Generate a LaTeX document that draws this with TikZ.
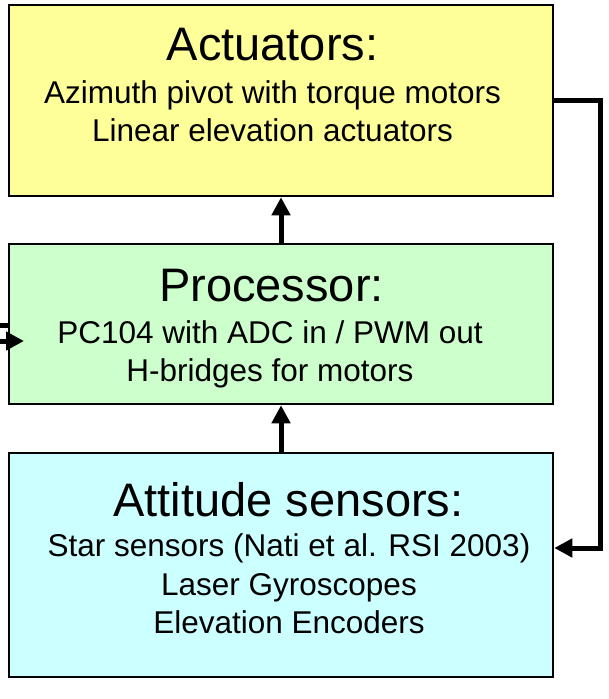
\documentclass[tikz,border=0pt]{standalone}
\usepackage{fontspec}
\setmainfont{Liberation Sans}
\usepackage{xcolor}
\usetikzlibrary{positioning,arrows.meta}

\definecolor{actfill}{HTML}{FFFF99}
\definecolor{procfill}{HTML}{CCFFCC}
\definecolor{sensfill}{HTML}{CCFFFF}

\tikzset{
  blockbox/.style={draw, line width=2.5pt, rectangle, inner sep=0pt, minimum width=544pt},
  blocktitle/.style={anchor=base, inner sep=0pt, font=\fontsize{47}{56}\selectfont},
  blocktext/.style={anchor=base, inner sep=0pt, align=center, font=\fontsize{31.5}{38.3}\selectfont},
  flow/.style={line width=5pt, -{Triangle[length=18pt,width=18pt]}},
}

\begin{document}
\begin{tikzpicture}[x=1pt,y=-1pt]
    \useasboundingbox (0,0) rectangle (608,699);
    \node[blockbox,fill=actfill,minimum height=191pt] at (281,100.5) (act) {};
    \node[blockbox,fill=procfill,minimum height=160pt] at (281,324) (proc) {};
    \node[blockbox,fill=sensfill,minimum height=224pt] at (281,565) (sens) {};
    % base of a multi-line text is its last line
    \node[blocktitle] at (272.5,60) (acttitle) {Actuators:};
    \node[blocktext] at (272.5,141.7) (actbody) {Azimuth pivot with torque motors\\Linear elevation actuators};
    \node[blocktitle] at (271.5,301.7) (proctitle) {Processor:};
    \node[blocktext] at (270,381.7) (procbody) {PC104 with ADC in / PWM out\\H-bridges for motors};
    \node[blocktitle] at (288.5,516.7) (senstitle) {Attitude sensors:};
    \node[blocktext] at (289,633.3) (sensbody) {Star sensors (Nati et al. RSI 2003)\\Laser Gyroscopes\\Elevation Encoders};
    \coordinate (loopcorner) at (600,548);
    \coordinate (instub) at (0,325);
    \coordinate (infrom) at (0,341);
    \coordinate (intip) at (24,341);
    % connectors
    \draw[flow] (proc.north) -- (act.south);
    \draw[flow] (sens.north) -- (proc.south);
    \draw[flow] (act.east) -| (loopcorner) -- (loopcorner -| sens.east);
    \draw[flow] (infrom) -- (intip);
    \draw[line width=5pt] (instub) -- (instub -| proc.west);
\end{tikzpicture}
\end{document}
